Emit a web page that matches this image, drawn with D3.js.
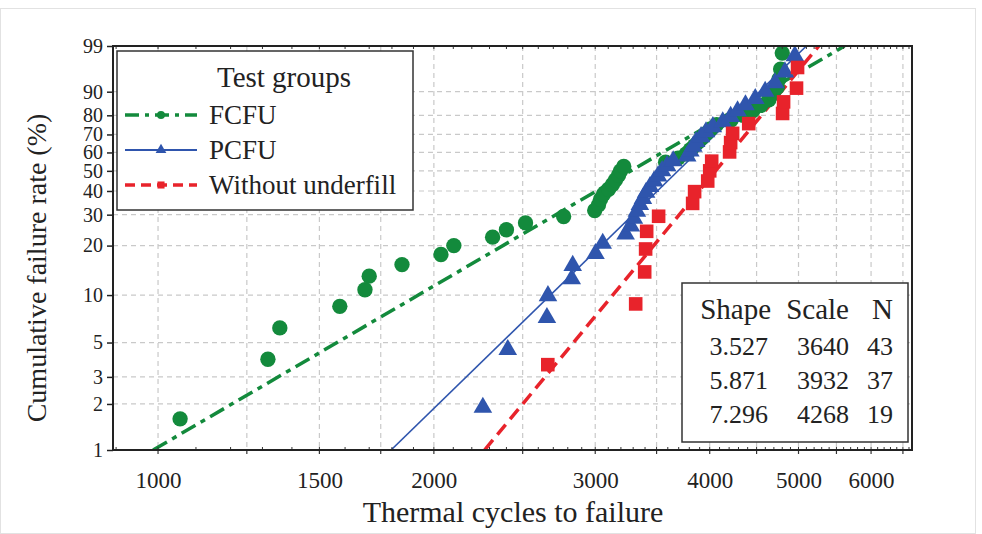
<!doctype html>
<html>
<head>
<meta charset="UTF-8">
<title>Weibull plot - thermal cycles to failure</title>
<script src="https://d3js.org/d3.v7.min.js"></script>
<style>
  body { margin: 0; background: #fff; }
  svg { font-family: "Liberation Serif", "DejaVu Serif", serif; }
</style>
</head>
<body>
<script>
// ---- data ----
var groups = ["FCFU", "PCFU", "Without underfill"];
var shapes = [3.527, 5.871, 7.296];
var scales = [3640, 3932, 4268];
var counts = [43, 37, 19];

// cycles to failure and cumulative failure rate (%) per group
var fcfuCycles = [1057, 1318, 1358, 1579, 1682, 1700, 1846, 2036, 2103, 2318, 2400, 2518, 2771,
  2996, 3025, 3040, 3063, 3102, 3133, 3157, 3181, 3197, 3223, 3580, 3695, 3770, 3810, 3850,
  3890, 3930, 3970, 4010, 4070, 4220, 4350, 4460, 4550, 4640, 4690, 4740, 4760, 4780, 4800];
var fcfuRate = [1.6, 3.9, 6.2, 8.5, 10.8, 13.1, 15.4, 17.7, 20.0, 22.4, 24.7, 27.0, 29.3,
  31.6, 33.9, 36.2, 38.5, 40.8, 43.1, 45.4, 47.7, 50.0, 52.3, 54.6, 56.9, 59.2, 61.5, 63.8,
  66.1, 68.4, 70.7, 73.0, 75.3, 77.6, 80.0, 82.3, 84.6, 86.9, 89.2, 91.5, 93.8, 96.1, 98.4];

var pcfuCycles = [2262, 2408, 2657, 2664, 2828, 2835, 3002, 3057, 3238, 3281, 3306, 3331, 3356,
  3382, 3409, 3443, 3478, 3513, 3549, 3594, 3649, 3780, 3810, 3838, 3866, 3914, 3963, 4032,
  4133, 4216, 4290, 4376, 4485, 4598, 4714, 4832, 4954];
var pcfuRate = [1.9, 4.5, 7.2, 9.9, 12.6, 15.2, 17.9, 20.6, 23.3, 25.9, 28.6, 31.3, 34.0,
  36.6, 39.3, 42.0, 44.7, 47.3, 50.0, 52.7, 55.3, 58.0, 60.7, 63.4, 66.0, 68.7, 71.4, 74.1,
  76.7, 79.4, 82.1, 84.8, 87.4, 90.1, 92.8, 95.5, 98.1];

var nounCycles = [2663, 3321, 3397, 3405, 3414, 3518, 3832, 3851, 3980, 4000, 4020, 4205, 4216,
  4237, 4412, 4804, 4816, 4975, 4988];
var nounRate = [3.6, 8.8, 13.9, 19.1, 24.2, 29.4, 34.5, 39.7, 44.8, 50.0, 55.2, 60.3, 65.5,
  70.6, 75.8, 80.9, 86.1, 91.2, 96.4];

var xTickVals = [1000, 1500, 2000, 3000, 4000, 5000, 6000];
var xGridVals = [1000, 1250, 1500, 1750, 2000, 2500, 3000, 3500, 4000, 4500, 5000, 5500, 6000, 6500];
var yTickVals = [1, 2, 3, 5, 10, 20, 30, 40, 50, 60, 70, 80, 90, 99];

var colors = ["#138a3c", "#2f55ad", "#e8232b"];

// ---- layout ----
var W = 982, H = 534;
var L = 113, R = 912, T = 46, B = 450;

var svg = d3.select("body").append("svg").attr("width", W).attr("height", H);

svg.append("rect").attr("x", 0.5).attr("y", 8.5).attr("width", 975).attr("height", 525)
  .attr("fill", "none").attr("stroke", "#e2e2e2");

var x = d3.scaleLog().domain([893, 6650]).range([L, R]);
function wb(p) { return Math.log(-Math.log(1 - p / 100)); }
var yLin = d3.scaleLinear().domain([wb(1), wb(99)]).range([B, T]);
function y(p) { return yLin(wb(p)); }

svg.append("clipPath").attr("id", "plotclip")
  .append("rect").attr("x", L).attr("y", T).attr("width", R - L).attr("height", B - T);

// grid
var grid = svg.append("g").attr("stroke", "#c9c9c9").attr("stroke-width", 1.2)
  .attr("stroke-dasharray", "5,4");
grid.selectAll("line.v").data(xGridVals).enter().append("line")
  .attr("x1", function (d) { return x(d); }).attr("x2", function (d) { return x(d); })
  .attr("y1", T).attr("y2", B);
grid.selectAll("line.h").data(yTickVals.slice(1, -1)).enter().append("line")
  .attr("x1", L).attr("x2", R)
  .attr("y1", function (d) { return y(d); }).attr("y2", function (d) { return y(d); });

// fit lines from the Weibull parameters
var plot = svg.append("g").attr("clip-path", "url(#plotclip)");
var dashes = ["16,6,5,6", null, "13,7"];
var widths = [3.5, 1.6, 3.5];
groups.forEach(function (g, i) {
  var ends = [1, 99].map(function (p) {
    return [scales[i] * Math.pow(-Math.log(1 - p / 100), 1 / shapes[i]), p];
  });
  plot.append("path").datum(ends)
    .attr("d", d3.line().x(function (d) { return x(d[0]); }).y(function (d) { return y(d[1]); }))
    .attr("fill", "none").attr("stroke", colors[i]).attr("stroke-width", widths[i])
    .attr("stroke-dasharray", dashes[i]);
});

// points
var sets = [
  d3.zip(fcfuCycles, fcfuRate),
  d3.zip(pcfuCycles, pcfuRate),
  d3.zip(nounCycles, nounRate)
];
var symbols = [d3.symbolCircle, d3.symbolTriangle, d3.symbolSquare];
var sizes = [185, 150, 185];
sets.forEach(function (pts, i) {
  plot.append("g").selectAll("path").data(pts).enter().append("path")
    .attr("transform", function (d) { return "translate(" + x(d[0]) + "," + y(d[1]) + ")"; })
    .attr("d", d3.symbol().type(symbols[i]).size(sizes[i]))
    .attr("fill", colors[i]);
});

// axes
var xAxis = d3.axisBottom(x).tickValues(xTickVals).tickFormat(d3.format("d")).tickSize(0).tickPadding(22);
var gx = svg.append("g").attr("transform", "translate(0," + B + ")").call(xAxis);
gx.select(".domain").remove();
gx.selectAll("text").attr("font-size", 23).attr("fill", "#222").attr("font-family", "Liberation Serif");

var yAxis = d3.axisLeft(yLin).tickValues(yTickVals.map(wb))
  .tickFormat(function (d, i) { return yTickVals[i]; }).tickSize(6).tickPadding(4);
var gy = svg.append("g").attr("transform", "translate(" + L + ",0)").call(yAxis);
gy.select(".domain").remove();
gy.selectAll("line").attr("stroke", "#222").attr("stroke-width", 1.5);
gy.selectAll("text").attr("font-size", 20).attr("fill", "#222").attr("font-family", "Liberation Serif");

// small ticks on top/bottom edges
var minor = d3.range(900, 6700, 100);
svg.append("g").selectAll("line").data(minor).enter().append("line")
  .attr("x1", function (d) { return x(d); }).attr("x2", function (d) { return x(d); })
  .attr("y1", B).attr("y2", B - 3).attr("stroke", "#333").attr("stroke-width", 1);
svg.append("g").selectAll("line").data(minor).enter().append("line")
  .attr("x1", function (d) { return x(d); }).attr("x2", function (d) { return x(d); })
  .attr("y1", T).attr("y2", T + 3).attr("stroke", "#333").attr("stroke-width", 1);
svg.append("g").selectAll("line").data(xGridVals).enter().append("line")
  .attr("x1", function (d) { return x(d); }).attr("x2", function (d) { return x(d); })
  .attr("y1", B).attr("y2", B + 4).attr("stroke", "#333").attr("stroke-width", 1.2);

// frame
svg.append("rect").attr("x", L).attr("y", T).attr("width", R - L).attr("height", B - T)
  .attr("fill", "none").attr("stroke", "#222").attr("stroke-width", 2);

// axis titles
svg.append("text").attr("x", 513).attr("y", 522).attr("text-anchor", "middle")
  .attr("font-size", 30).attr("fill", "#222").text("Thermal cycles to failure");
svg.append("text").attr("transform", "translate(46," + 268 + ") rotate(-90)")
  .attr("text-anchor", "middle").attr("font-size", 28).attr("fill", "#222")
  .text("Cumulative failure rate (%)");

// legend
var lg = svg.append("g");
lg.append("rect").attr("x", 117).attr("y", 51).attr("width", 296).attr("height", 159)
  .attr("fill", "#fff").attr("stroke", "#333").attr("stroke-width", 1.5);
lg.append("text").attr("x", 284).attr("y", 87).attr("text-anchor", "middle")
  .attr("font-size", 29).attr("fill", "#222").text("Test groups");
var legY = [115, 150, 185];
groups.forEach(function (g, i) {
  lg.append("line").attr("x1", 125).attr("x2", 197).attr("y1", legY[i]).attr("y2", legY[i])
    .attr("stroke", colors[i]).attr("stroke-width", widths[i] < 2 ? 2 : widths[i])
    .attr("stroke-dasharray", i === 0 ? "14,6,4,6" : (i === 2 ? "10,6" : null));
  lg.append("path").attr("transform", "translate(161," + legY[i] + ")")
    .attr("d", d3.symbol().type(symbols[i]).size(50)).attr("fill", colors[i]);
  lg.append("text").attr("x", 209).attr("y", legY[i] + 9).attr("font-size", 27)
    .attr("fill", "#222").text(g);
});

// stats table
var tb = svg.append("g");
tb.append("rect").attr("x", 682).attr("y", 283).attr("width", 226).attr("height", 159)
  .attr("fill", "#fff").attr("stroke", "#333").attr("stroke-width", 1.5);
var colRight = [771, 849, 893];
var heads = ["Shape", "Scale", "N"];
heads.forEach(function (h, j) {
  tb.append("text").attr("x", colRight[j]).attr("y", 319).attr("text-anchor", "end")
    .attr("font-size", 29).attr("fill", "#222").text(h);
});
var rowY = [355, 389, 423];
groups.forEach(function (g, i) {
  var vals = [shapes[i].toFixed(3), scales[i], counts[i]];
  vals.forEach(function (v, j) {
    tb.append("text").attr("x", colRight[j] - (j === 0 ? 3 : 0)).attr("y", rowY[i])
      .attr("text-anchor", "end")
      .attr("font-size", 26).attr("fill", "#222").text(v);
  });
});
</script>
</body>
</html>
